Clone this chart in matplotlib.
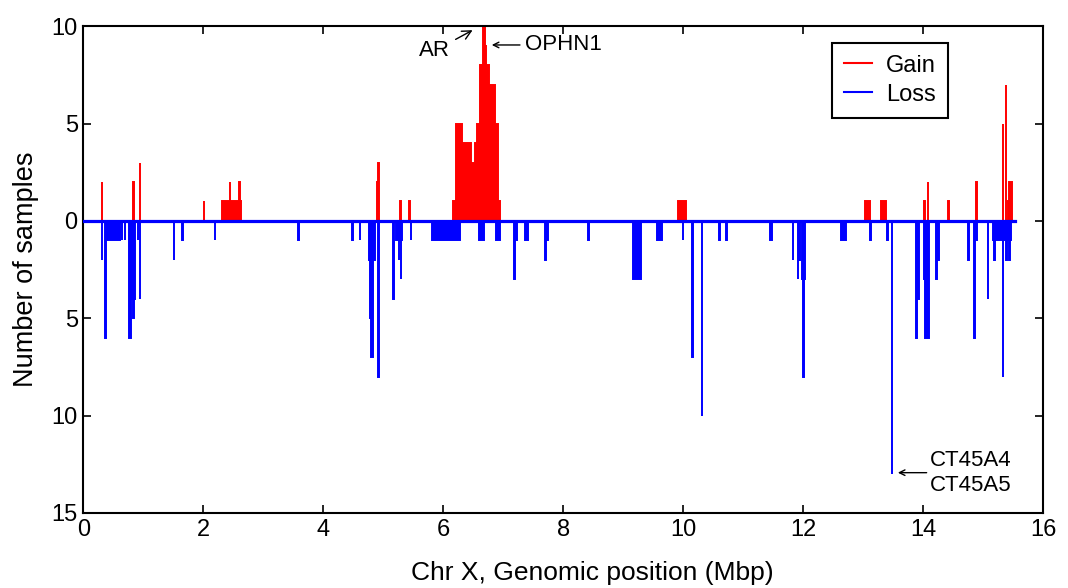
import matplotlib
matplotlib.use('Agg')
import matplotlib.pyplot as plt
import numpy as np

plt.rcParams['font.family'] = ['Liberation Sans', 'DejaVu Sans']

# gains: start, end (Mbp), number of samples
gain_start = [0.31, 0.83, 0.94, 2.01, 2.32, 2.44, 2.60, 4.90, 4.92, 5.28, 5.43,
              6.17, 6.22, 6.32, 6.46, 6.53, 6.57, 6.61, 6.66, 6.69, 6.72, 6.76, 6.86, 6.92,
              9.92, 13.04, 13.30, 14.02, 14.08, 14.42, 14.89,
              15.33, 15.38, 15.41, 15.44]
gain_end = [0.32, 0.84, 0.95, 2.02, 2.63, 2.45, 2.61, 4.91, 4.93, 5.29, 5.44,
            6.22, 6.32, 6.46, 6.53, 6.57, 6.61, 6.66, 6.69, 6.72, 6.76, 6.86, 6.92, 6.95,
            10.05, 13.11, 13.38, 14.03, 14.09, 14.43, 14.90,
            15.34, 15.39, 15.43, 15.48]
gain_val = [2, 2, 3, 1, 1, 2, 2, 2, 3, 1, 1,
            1, 5, 4, 3, 4, 5, 8, 10, 9, 8, 7, 5, 1,
            1, 1, 1, 1, 2, 1, 2,
            5, 7, 1, 2]

# losses: start, end (Mbp), number of samples (negative)
loss_start = [0.31, 0.37, 0.39, 0.64, 0.69, 0.77, 0.80, 0.83, 0.85, 0.91, 0.94,
              1.51, 1.65, 2.19, 3.58, 4.48, 4.61,
              4.76, 4.78, 4.80, 4.83, 4.92, 5.17, 5.22, 5.26, 5.29, 5.46,
              5.82, 6.60, 6.88, 7.18, 7.20, 7.36, 7.70, 7.72, 8.42,
              9.17, 9.56, 9.99, 10.15, 10.31, 10.60, 10.72, 11.45,
              11.83, 11.91, 11.94, 11.99, 12.00, 12.64, 13.12,
              13.40, 13.48, 13.89, 13.92, 14.01, 14.04, 14.21, 14.23,
              14.75, 14.85, 14.87, 15.08, 15.16, 15.19, 15.33, 15.39, 15.44]
loss_end = [0.32, 0.38, 0.61, 0.65, 0.70, 0.80, 0.83, 0.85, 0.86, 0.92, 0.95,
            1.52, 1.66, 2.20, 3.59, 4.49, 4.62,
            4.78, 4.80, 4.83, 4.87, 4.93, 5.18, 5.32, 5.27, 5.30, 5.47,
            6.28, 6.68, 6.95, 7.20, 7.23, 7.41, 7.72, 7.74, 8.43,
            9.29, 9.65, 10.00, 10.16, 10.32, 10.61, 10.73, 11.49,
            11.84, 11.92, 11.95, 12.03, 12.01, 12.72, 13.13,
            13.41, 13.49, 13.90, 13.93, 14.04, 14.10, 14.23, 14.26,
            14.76, 14.86, 14.90, 15.09, 15.47, 15.20, 15.34, 15.40, 15.45]
loss_val = [-2, -6, -1, -1, -1, -6, -4, -5, -4, -1, -4,
            -2, -1, -1, -1, -1, -1,
            -2, -5, -7, -2, -8, -4, -1, -2, -3, -1,
            -1, -1, -1, -3, -1, -1, -2, -1, -1,
            -3, -1, -1, -7, -10, -1, -1, -1,
            -2, -3, -2, -3, -8, -1, -1,
            -1, -13, -6, -4, -3, -6, -3, -2,
            -2, -6, -1, -4, -1, -2, -8, -2, -2]

chr_end = 15.53

fig = plt.figure(figsize=(10.68, 5.88), dpi=100)
ax = fig.add_axes([0.078, 0.1276, 0.8986, 0.8277])

gs = np.array(gain_start)
ge = np.array(gain_end)
ax.bar(gs, gain_val, width=ge - gs, align='edge', color='#ff0000',
       edgecolor='#ff0000', linewidth=1.4, zorder=2)

ls = np.array(loss_start)
le = np.array(loss_end)
ax.bar(ls, loss_val, width=le - ls, align='edge', color='#0000ff',
       edgecolor='#0000ff', linewidth=1.4, zorder=2)

ax.plot([0, chr_end], [0, 0], color='#0000ff', linewidth=2.3, zorder=3)

# legend handles
ax.plot([], [], color='#ff0000', linewidth=1.5, label='Gain')
ax.plot([], [], color='#0000ff', linewidth=1.5, label='Loss')
leg = ax.legend(loc='upper left', bbox_to_anchor=(0.780, 0.966), fontsize=17,
                fancybox=False, framealpha=1, edgecolor='black',
                borderaxespad=0, handlelength=1.2, borderpad=0.5,
                labelspacing=0.3, handletextpad=0.6)
leg.get_frame().set_linewidth(1.5)

ax.set_xlim(0, 16)
ax.set_ylim(-15, 10)
ax.set_xticks(np.arange(0, 17, 2))
yt = [10, 5, 0, -5, -10, -15]
ax.set_yticks(yt)
ax.set_yticklabels([str(abs(v)) for v in yt])
ax.tick_params(direction='in', length=6, width=1.2, top=True, right=True,
               labelsize=17, pad=4)
for s in ax.spines.values():
    s.set_linewidth(1.5)

ax.set_xlabel('Chr X, Genomic position (Mbp)', fontsize=19)
ax.xaxis.set_label_coords(0.53, -0.098)
ax.set_ylabel('Number of samples', fontsize=19.5, labelpad=9)

# gene annotations
ax.annotate('AR', xy=(6.49, 9.8), xytext=(6.12, 8.75), fontsize=16,
            ha='right', va='center',
            arrowprops=dict(arrowstyle='->', color='black', lw=1.0,
                            shrinkA=2, shrinkB=0))
ax.annotate('', xy=(6.81, 9.04), xytext=(7.28, 9.04),
            arrowprops=dict(arrowstyle='->', color='black', lw=1.0,
                            shrinkA=0, shrinkB=0))
ax.text(7.36, 9.04, 'OPHN1', fontsize=16, ha='left', va='center')
ax.annotate('', xy=(13.58, -12.93), xytext=(14.06, -12.93),
            arrowprops=dict(arrowstyle='->', color='black', lw=1.0,
                            shrinkA=0, shrinkB=0))
ax.text(14.12, -12.93, 'CT45A4\nCT45A5', fontsize=16, ha='left', va='center',
        linespacing=1.25)

fig.savefig('out.png', dpi=100)
